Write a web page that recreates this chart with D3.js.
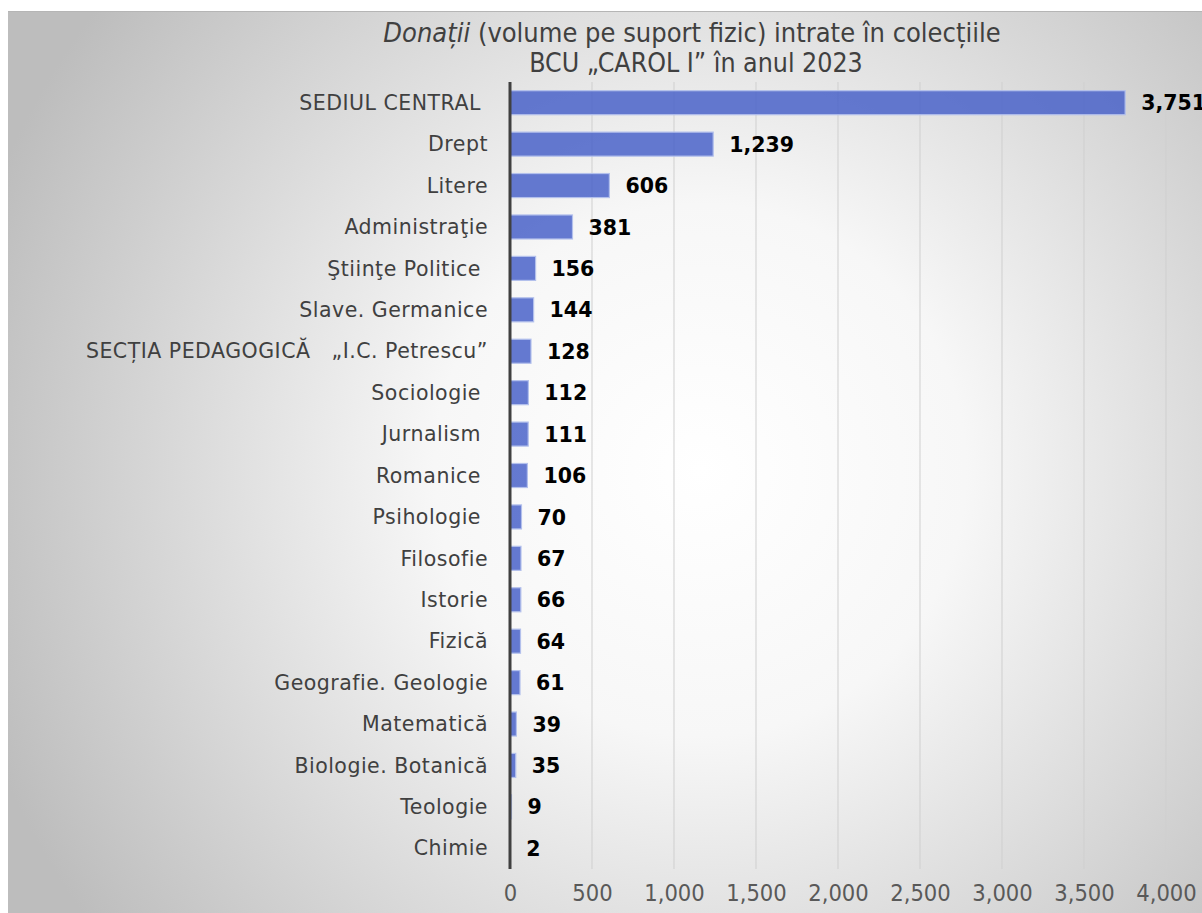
<!DOCTYPE html>
<html><head><meta charset="utf-8">
<script src="https://cdn.jsdelivr.net/npm/d3@7"></script>
<style>
html,body{margin:0;padding:0;background:#fff;}
svg{display:block;}
text{white-space:pre;}
</style></head>
<body>
<svg id="c" width="1202" height="913"></svg>
<script>
const categories = ["SEDIUL CENTRAL ", "Drept", "Litere", "Administraţie", "Ştiinţe Politice ", "Slave. Germanice", "SECȚIA PEDAGOGICĂ   „I.C. Petrescu”", "Sociologie ", "Jurnalism ", "Romanice ", "Psihologie ", "Filosofie", "Istorie", "Fizică", "Geografie. Geologie", "Matematică", "Biologie. Botanică", "Teologie", "Chimie"];
const values = [3751, 1239, 606, 381, 156, 144, 128, 112, 111, 106, 70, 67, 66, 64, 61, 39, 35, 9, 2];
const tickValues = [0, 500, 1000, 1500, 2000, 2500, 3000, 3500, 4000];
const titleItalic = "Donații";
const titleRest = " (volume pe suport fizic) intrate în colecțiile";
const titleLine2 = "BCU „CAROL I” în anul 2023";

const svg = d3.select("#c");
const W = 1202, H = 913;
const narrow = "'Liberation Sans Narrow','DejaVu Sans Condensed','Arial Narrow',sans-serif";
const sans = "'DejaVu Sans',Verdana,sans-serif";

const defs = svg.append("defs");
const rg = defs.append("radialGradient").attr("id","bg")
  .attr("gradientUnits","userSpaceOnUse").attr("cx",700).attr("cy",470).attr("r",760);
rg.append("stop").attr("offset","0%").attr("stop-color","#ffffff");
rg.append("stop").attr("offset","35%").attr("stop-color","#f7f7f7");
rg.append("stop").attr("offset","100%").attr("stop-color","#bdbdbd");

svg.append("rect").attr("x",8).attr("y",11).attr("width",W-8).attr("height",H-11).attr("fill","url(#bg)");
svg.append("line").attr("x1",8).attr("x2",W).attr("y1",11.5).attr("y2",11.5).attr("stroke","#b5b5b5").attr("stroke-width",1);

const x = d3.scaleLinear().domain([0,4000]).range([510,1166]);
const y = d3.scaleBand().domain(categories).range([82,869]).paddingInner(0.42).paddingOuter(0.21);

// gridlines
svg.append("g").selectAll("line").data(tickValues.slice(1)).join("line")
  .attr("x1",d=>x(d)).attr("x2",d=>x(d)).attr("y1",82).attr("y2",869)
  .attr("stroke","#cfcfcf").attr("stroke-width",1);

// bars
svg.append("g").selectAll("rect").data(values).join("rect")
  .attr("x",x(0)).attr("y",(d,i)=>y(categories[i]))
  .attr("width",d=>x(d)-x(0)).attr("height",y.bandwidth())
  .attr("fill","rgb(72,96,200)").attr("fill-opacity",0.84)
  .attr("stroke","#b3c0ec").attr("stroke-width",1.2);

// zero axis
svg.append("line").attr("x1",x(0)).attr("x2",x(0)).attr("y1",82).attr("y2",869)
  .attr("stroke","#404040").attr("stroke-width",3);

// category labels
svg.append("g").selectAll("text").data(categories).join("text")
  .attr("x",488).attr("y",d=>y(d)+y.bandwidth()/2).attr("dy","0.35em")
  .attr("text-anchor","end").attr("font-family",sans).attr("font-size",20.5)
  .attr("letter-spacing",0.5)
  .attr("fill","#404040").text(d=>d);

// value labels
const fmt = d3.format(",");
svg.append("g").selectAll("text").data(values).join("text")
  .attr("x",d=>x(d)+16).attr("y",(d,i)=>y(categories[i])+y.bandwidth()/2).attr("dy","0.37em")
  .attr("font-family",sans).attr("font-weight","bold").attr("font-size",20.5)
  .attr("fill","#000").text(d=>fmt(d));

// x axis tick labels
const xa = d3.axisBottom(x).tickValues(tickValues).tickFormat(fmt).tickSize(0).tickPadding(0);
const ga = svg.append("g").attr("transform","translate(0,893)").call(xa);
ga.select(".domain").remove();
ga.selectAll("text").attr("dy","0.35em").attr("font-family",narrow).attr("font-size",23.5).attr("fill","#595959");

// title
const t1 = svg.append("text").attr("x",692).attr("y",42).attr("text-anchor","middle")
  .attr("font-family",narrow).attr("font-size",27).attr("fill","#404040");
t1.append("tspan").attr("font-style","italic").text(titleItalic);
t1.append("tspan").text(titleRest);
svg.append("text").attr("x",696).attr("y",72).attr("text-anchor","middle")
  .attr("font-family",narrow).attr("font-size",26.5).attr("fill","#404040").text(titleLine2);
</script>
</body></html>
